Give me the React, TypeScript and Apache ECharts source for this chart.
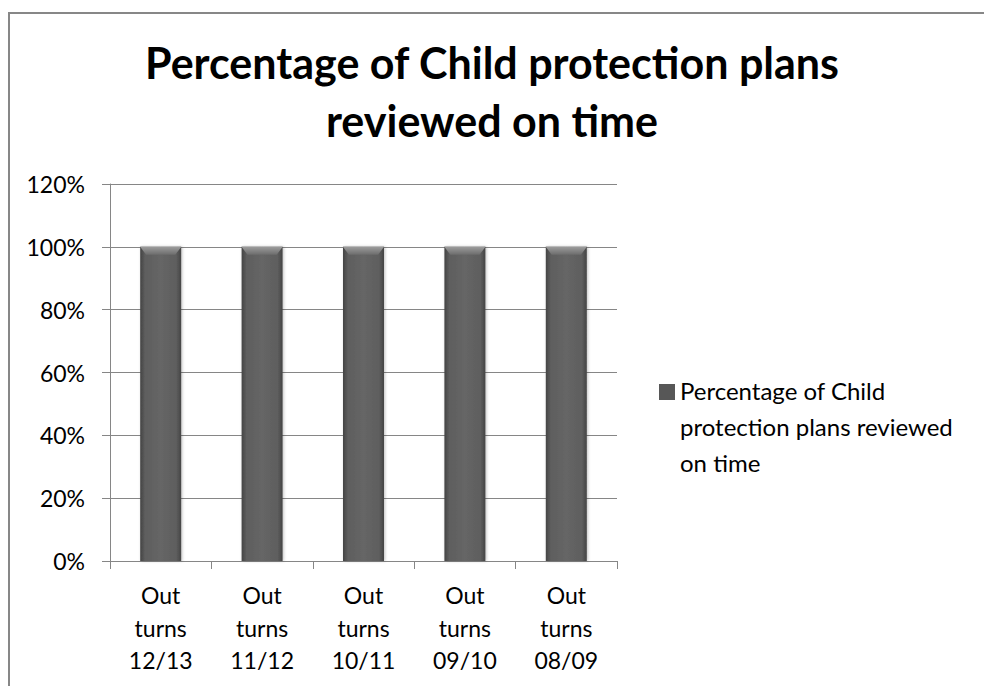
import React, { useEffect, useRef } from "react";
import * as echarts from "echarts";

const categories = ["Out\nturns\n12/13", "Out\nturns\n11/12", "Out\nturns\n10/11", "Out\nturns\n09/10", "Out\nturns\n08/09"];
const values = [1, 1, 1, 1, 1];
const seriesName = "Percentage of Child protection plans reviewed on time";
const titleText = "Percentage of Child protection plans\nreviewed on time";
const legendText = "Percentage of Child\nprotection plans reviewed\non time";
const yMax = 1.2;
const yStep = 0.2;

const FONT = "Lato, 'Open Sans', sans-serif";

export default function App() {
  const ref = useRef<HTMLDivElement>(null);
  useEffect(() => {
    document.body.style.margin = "0";
    const chart = echarts.init(ref.current!, null, { renderer: "svg" });
    const barColor = new echarts.graphic.LinearGradient(0, 0, 1, 0, [
      { offset: 0, color: "#444444" },
      { offset: 0.12, color: "#5e5e5e" },
      { offset: 0.5, color: "#666666" },
      { offset: 0.88, color: "#5e5e5e" },
      { offset: 1, color: "#444444" },
    ]);
    const bevelColor = new echarts.graphic.LinearGradient(0, 0, 0, 1, [
      { offset: 0, color: "#9c9c9c" },
      { offset: 1, color: "#6c6c6c" },
    ]);
    chart.setOption({
      animation: false,
      backgroundColor: "#ffffff",
      textStyle: { fontFamily: FONT },
      title: {
        text: titleText,
        left: "center",
        top: 28,
        textStyle: { fontFamily: FONT, fontSize: 43, fontWeight: "bold", color: "#000", lineHeight: 58 },
      },
      graphic: [
        {
          type: "rect",
          shape: { x: 9, y: 13, width: 1000, height: 700 },
          style: { fill: "none", stroke: "#878787", lineWidth: 2 },
          silent: true,
        },
      ],
      legend: {
        orient: "vertical",
        left: 659,
        top: 372,
        padding: 0,
        itemWidth: 16,
        itemHeight: 108,
        itemGap: 0,
        symbolKeepAspect: false,
        icon: "path://M0,0 L0.01,0 L0,0.01 Z M0,12 L16,12 L16,28 L0,28 Z M0,108 L0.01,108 L0,107.99 Z",
        formatter: () => legendText,
        textStyle: { fontFamily: FONT, fontSize: 24, color: "#000", lineHeight: 36 },
        data: [{ name: seriesName, itemStyle: { color: "#575757" } }],
      },
      grid: { left: 110, right: 367, top: 184, bottom: 125, containLabel: false },
      xAxis: {
        type: "category",
        data: categories,
        axisLine: { show: true, lineStyle: { color: "#868686", width: 1 } },
        axisTick: { show: true, length: 8, lineStyle: { color: "#868686" } },
        axisLabel: { fontFamily: FONT, fontSize: 23, color: "#000", lineHeight: 32.5, margin: 18, interval: 0 },
      },
      yAxis: {
        type: "value",
        min: 0,
        max: yMax,
        interval: yStep,
        axisLine: { show: true, lineStyle: { color: "#868686", width: 1 } },
        axisTick: { show: true, length: 8, lineStyle: { color: "#868686" } },
        splitLine: { show: true, lineStyle: { color: "#868686", width: 1 } },
        axisLabel: {
          fontFamily: FONT,
          fontSize: 23,
          color: "#000",
          margin: 25,
          formatter: (v: number) => Math.round(v * 100) + "%",
        },
      },
      series: [
        {
          name: seriesName,
          type: "bar",
          data: values,
          barWidth: 41,
          itemStyle: {
            color: barColor,
            shadowColor: "rgba(0,0,0,0.25)",
            shadowBlur: 3,
            shadowOffsetX: 1,
          },
        },
        {
          name: seriesName + " top",
          type: "pictorialBar",
          data: values,
          symbol: "path://M0,0 L41,0 L35,8 L6,8 Z",
          symbolSize: [41, 8],
          symbolPosition: "end",
          symbolOffset: [0, 0],
          symbolKeepAspect: false,
          z: 3,
          silent: true,
          itemStyle: { color: bevelColor },
        },
      ],
    });
    return () => chart.dispose();
  }, []);
  return <div ref={ref} style={{ position: "absolute", left: 0, top: 0, width: 984, height: 686 }} />;
}
